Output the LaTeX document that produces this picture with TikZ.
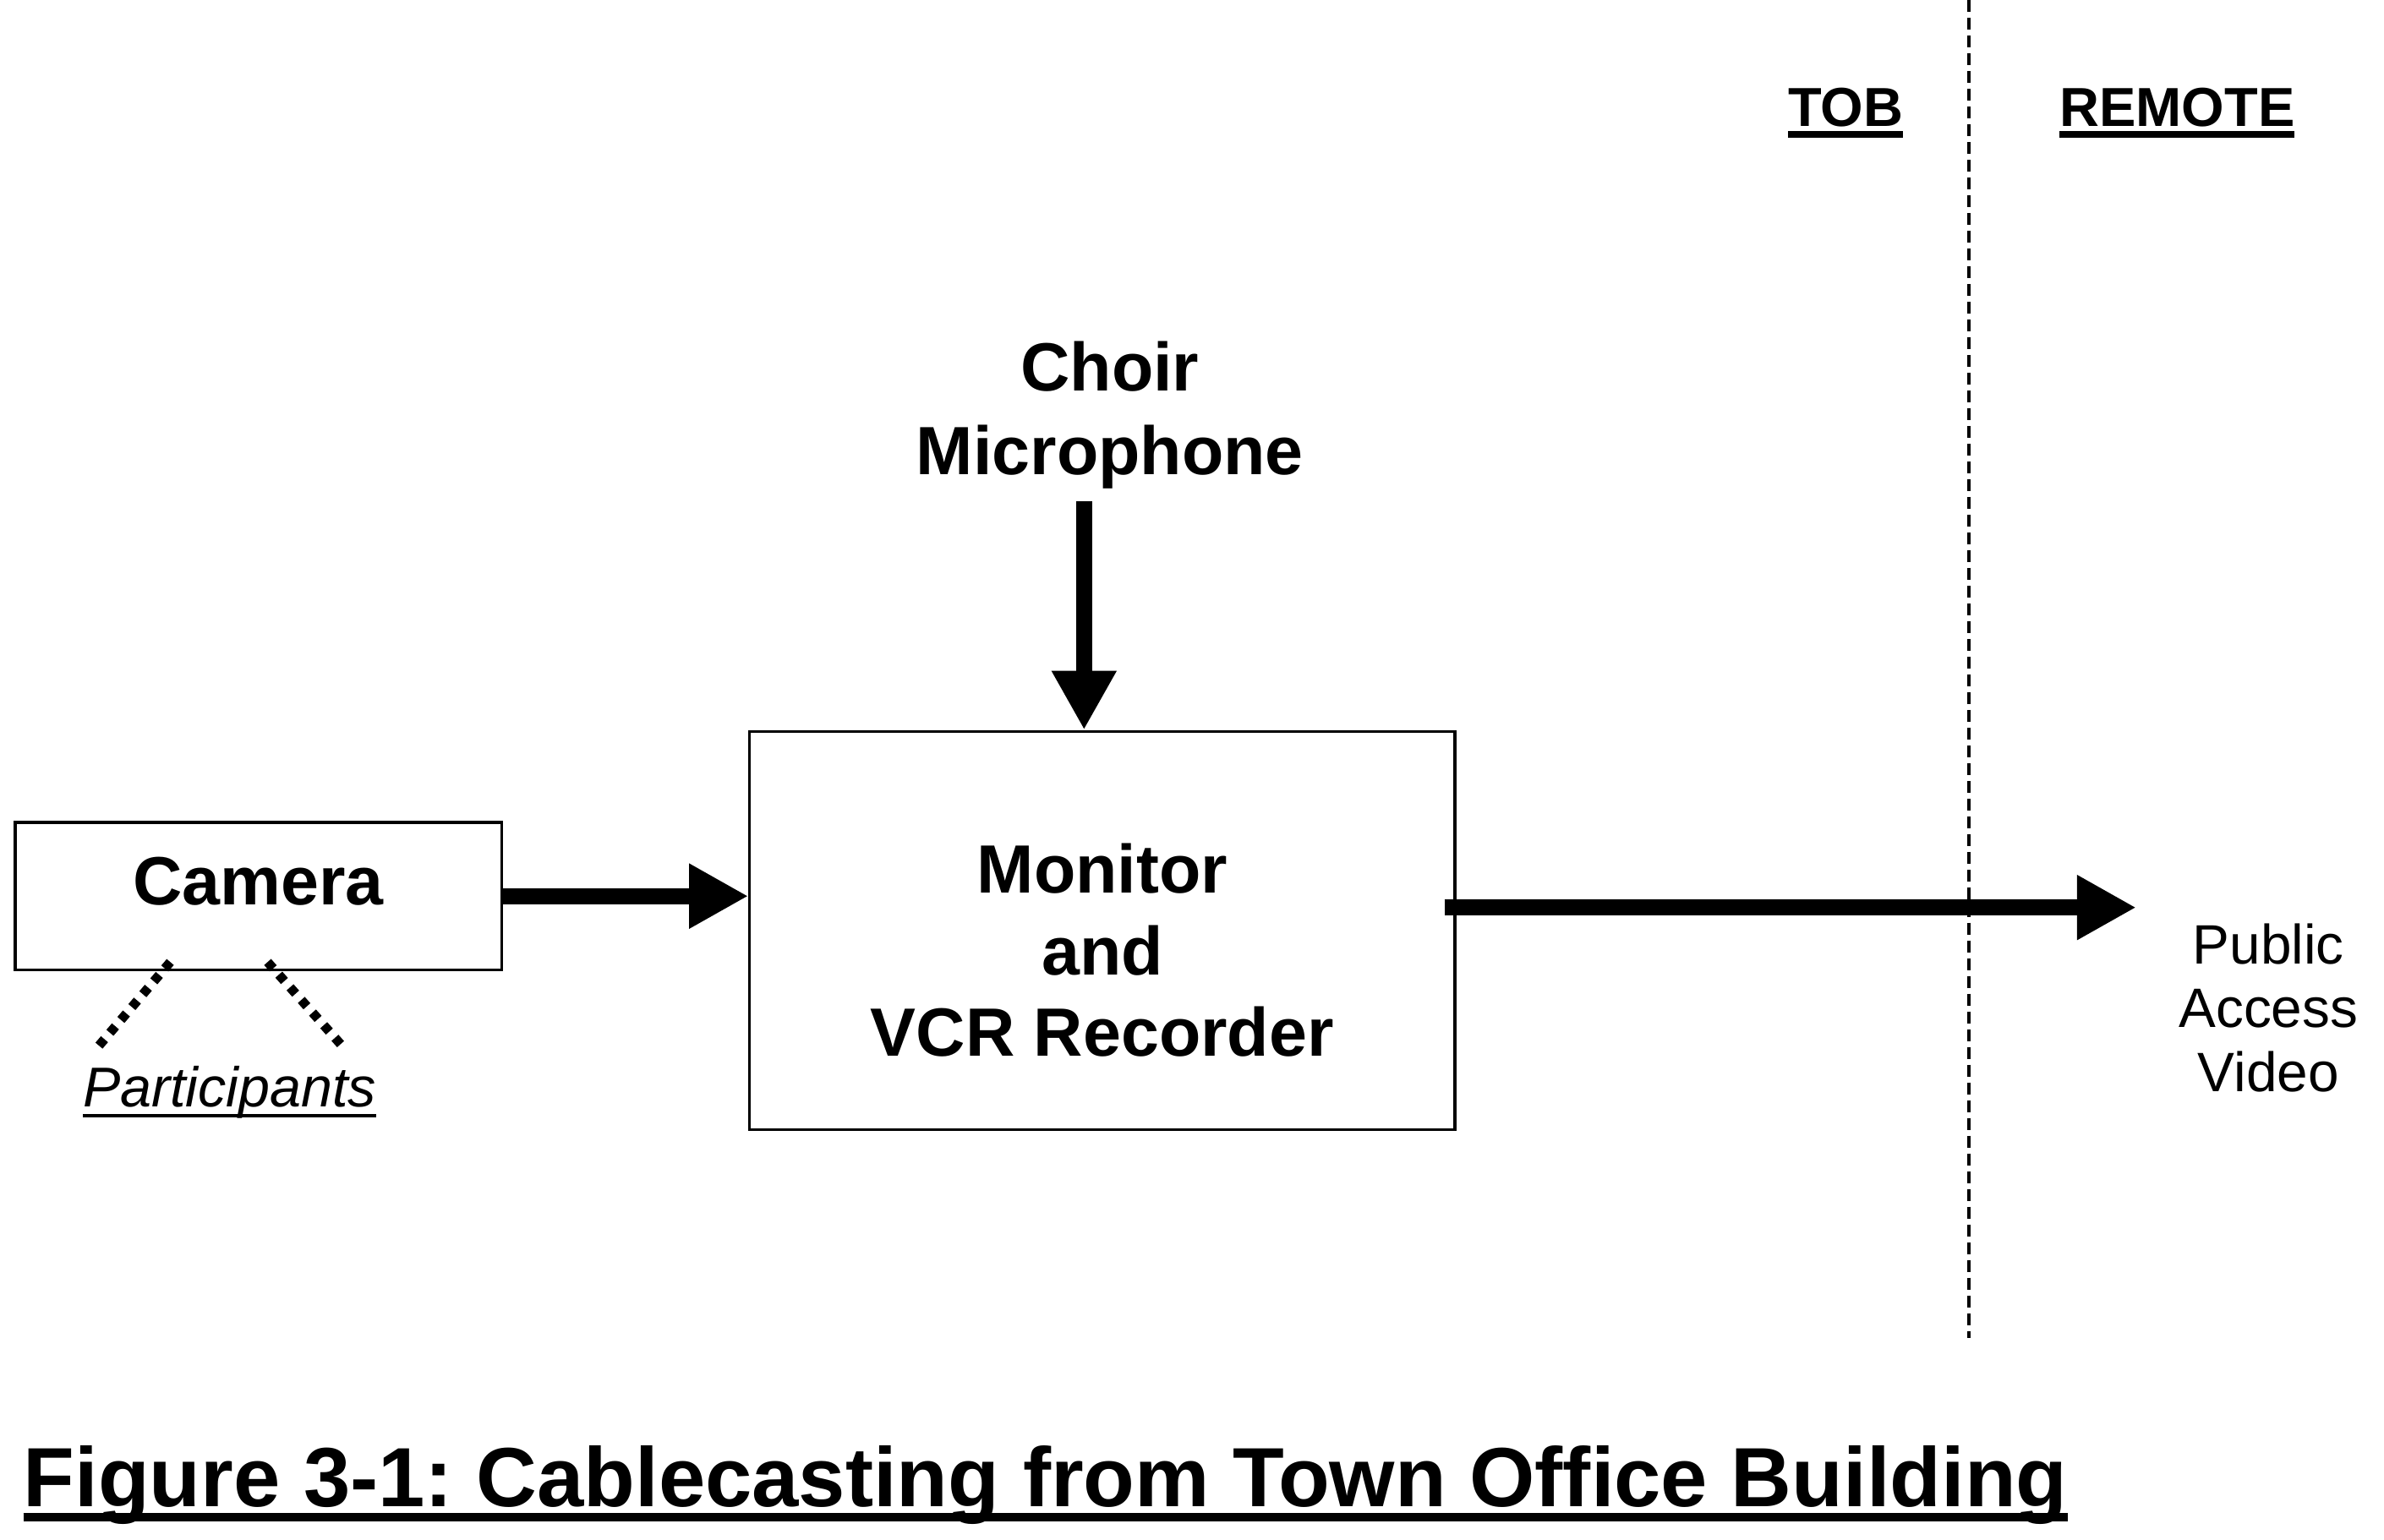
\documentclass[tikz,border=0pt]{standalone}
\usepackage{fontspec}
\setmainfont{Liberation Sans}
\usepackage{tikz}
\usetikzlibrary{arrows.meta, positioning, calc}
\frenchspacing
% underline with own thickness and depth
\newsavebox{\ulsave}
\newcommand{\ulbar}[3]{\sbox{\ulsave}{#3}\rlap{\rule[-#2]{\wd\ulsave}{#1}}\usebox{\ulsave}}
\tikzset{
    blockbox/.style={rectangle, draw, line width=0.9pt, inner sep=0pt,
        align=center, font=\bfseries\fontsize{23}{27.5}\selectfont},
    bigarrow/.style={line width=0.19cm, -{Triangle[length=0.7cm, width=0.72cm]}},
    dotline/.style={line width=0.11cm, dash pattern=on 0.1cm off 0.1cm},
    divider/.style={line width=0.04cm, dash pattern=on 0.14cm off 0.07cm},
    sidelabel/.style={font=\bfseries\fontsize{18.5}{22}\selectfont, inner sep=0pt, anchor=base},
}

\begin{document}
\begin{tikzpicture}[x=0.017985cm, y=-0.017985cm]
    \useasboundingbox (0,0) rectangle (1568,1013);

    % Boxes
    \node[blockbox, minimum width=5.755cm, minimum height=1.745cm,
          text height=0.6cm, text depth=0.4cm] (camera) at (170,589.5) {Camera};
    \node[blockbox, minimum width=8.345cm, minimum height=4.712cm] (monitor) at (725,612)
        {\rule{0pt}{1.06cm}Monitor\\and\\VCR Recorder};

    % Labels
    \node[align=center, inner sep=0pt, font=\bfseries\fontsize{23}{28.1}\selectfont] (mic)
        at (730,273) {Choir\\Microphone};
    \node[align=center, inner sep=0pt, font=\fontsize{18.7}{21.5}\selectfont] (pav)
        at (1492,663) {Public\\Access\\Video};
    \node[inner sep=0pt, anchor=base, font=\itshape\fontsize{18.9}{22}\selectfont] (part)
        at (151,728) {\ulbar{0.045cm}{0.13cm}{Participants}};
    \node[sidelabel] (tob) at (1214,83) {\ulbar{0.08cm}{0.14cm}{TOB}};
    \node[sidelabel] (remote) at (1432,83) {\ulbar{0.08cm}{0.14cm}{REMOTE}};
    \node[inner sep=0pt, anchor=base west, font=\bfseries\fontsize{28.3}{32}\selectfont] (title)
        at (15,991) {\ulbar{0.1cm}{0.18cm}{Figure 3-1: Cablecasting from Town Office Building}};

    % Free ends
    \coordinate (micstart) at (713,330);
    \coordinate (outend) at (1405,597);
    \coordinate (partl) at (65,688);
    \coordinate (partr) at (225,688);
    \coordinate (divtop) at (1295,0);
    \coordinate (divbot) at (1295,880);

    % TOB / REMOTE divider
    \draw[divider] (divtop) -- (divbot);

    % Signal arrows
    \draw[bigarrow] (camera.east) -- (camera.east -| monitor.west);
    \draw[bigarrow] (micstart) -- (micstart |- monitor.north);
    \draw[bigarrow] ([xshift=-4pt]monitor.east |- outend) -- (outend);

    % Camera view lines
    \draw[dotline] ($(camera.south)+(-58,-6)$) -- (partl);
    \draw[dotline] ($(camera.south)+(6,-6)$) -- (partr);
\end{tikzpicture}
\end{document}
